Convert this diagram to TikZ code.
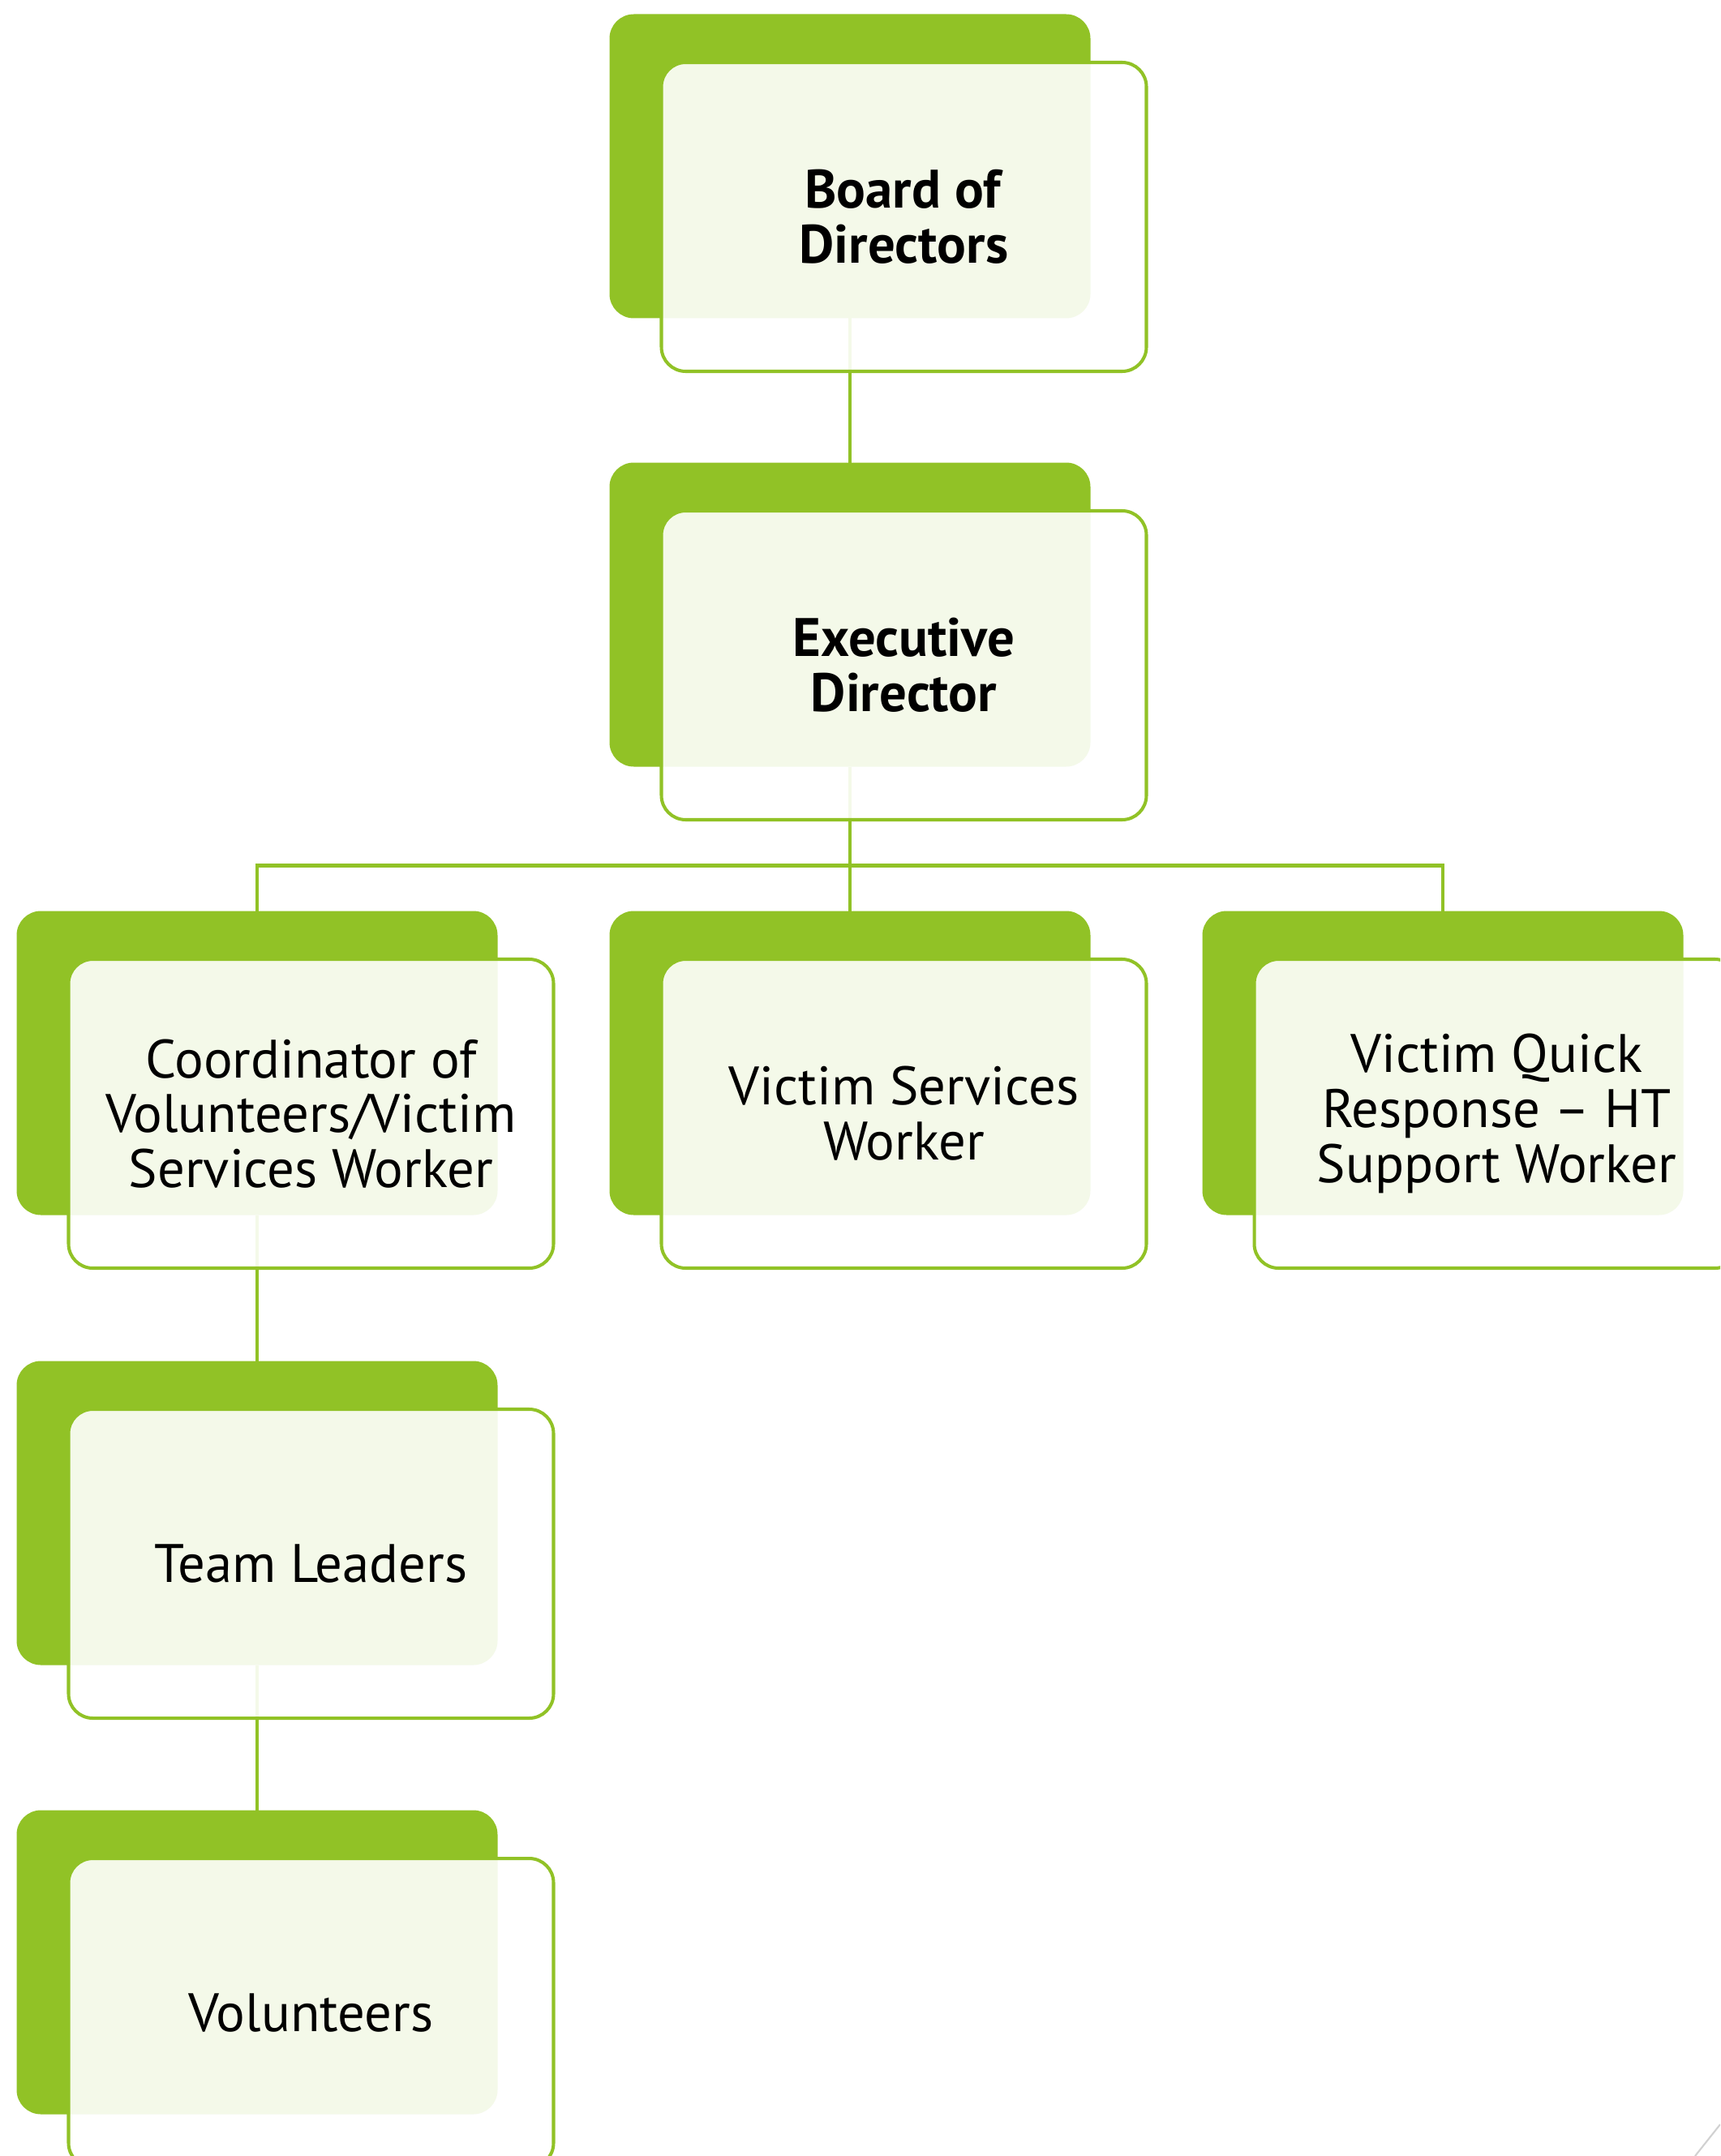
\documentclass[tikz,border=0pt]{standalone}
\usepackage{fontspec}
\setmainfont{PT Sans}
\usetikzlibrary{positioning, backgrounds}
\definecolor{leafgreen}{RGB}{145,194,38}

\tikzset{
  backbox/.style={rectangle, rounded corners=0.3cm, fill=leafgreen, minimum width=5.93cm, minimum height=3.75cm, inner sep=0pt, outer sep=0pt},
  frontbox/.style={rectangle, rounded corners=0.3cm, draw=leafgreen, line width=1.15pt, fill=white, fill opacity=0.9, text opacity=1, minimum width=5.98cm, minimum height=3.81cm, align=center, inner sep=0pt, font=\fontsize{19}{19.3}\selectfont},
  link/.style={draw=leafgreen, line width=1.15pt}
}

\begin{document}
\begin{tikzpicture}
	\useasboundingbox (0,0) rectangle (21.21,-26.59);
	\clip (0,0) rectangle (21.21,-26.59);

	% Board
	\node[backbox] (board) at (10.48,-2.05) {};
	\node[frontbox] (boardF) at ([shift={(0.665cm,-0.625cm)}]board.center) {\textbf{Board of}\\\textbf{Directors}};

	% Executive
	\node[backbox, below=1.78cm of board] (exec) {};
	\node[frontbox] (execF) at ([shift={(0.665cm,-0.625cm)}]exec.center) {\textbf{Executive}\\\textbf{Director}};

	% Staff row
	\node[backbox, below=1.78cm of exec] (vsw) {};
	\node[frontbox] (vswF) at ([shift={(0.665cm,-0.625cm)}]vsw.center) {Victim Services\\Worker};

	\node[backbox, left=1.38cm of vsw] (coord) {};
	\node[frontbox] (coordF) at ([shift={(0.665cm,-0.625cm)}]coord.center) {Coordinator of\\Volunteers/Victim\\Services Worker};

	\node[backbox, right=1.38cm of vsw] (vqr) {};
	\node[frontbox] (vqrF) at ([shift={(0.665cm,-0.625cm)}]vqr.center) {Victim Quick\\Response -- HT\\Support Worker};

	% Volunteer branch
	\node[backbox, below=1.8cm of coord] (team) {};
	\node[frontbox] (teamF) at ([shift={(0.665cm,-0.625cm)}]team.center) {Team Leaders};

	\node[backbox, below=1.79cm of team] (vol) {};
	\node[frontbox] (volF) at ([shift={(0.665cm,-0.625cm)}]vol.center) {Volunteers};

	% Connections
	\coordinate (split) at ([yshift=-1.22cm]exec.south);
	\begin{scope}[on background layer]
		\draw[link] (board.south) -- (exec.north);
		\draw[link] (exec.south) -- (split);
		\draw[link] (split) -| (coord.north);
		\draw[link] (split) -| (vqr.north);
		\draw[link] (split) -- (vsw.north);
		\draw[link] (coord.south) -- (team.north);
		\draw[link] (team.south) -- (vol.north);
	\end{scope}

	\draw[black!18, line width=0.6pt] (21.21,-26.2) -- (20.9,-26.59);
\end{tikzpicture}
\end{document}
